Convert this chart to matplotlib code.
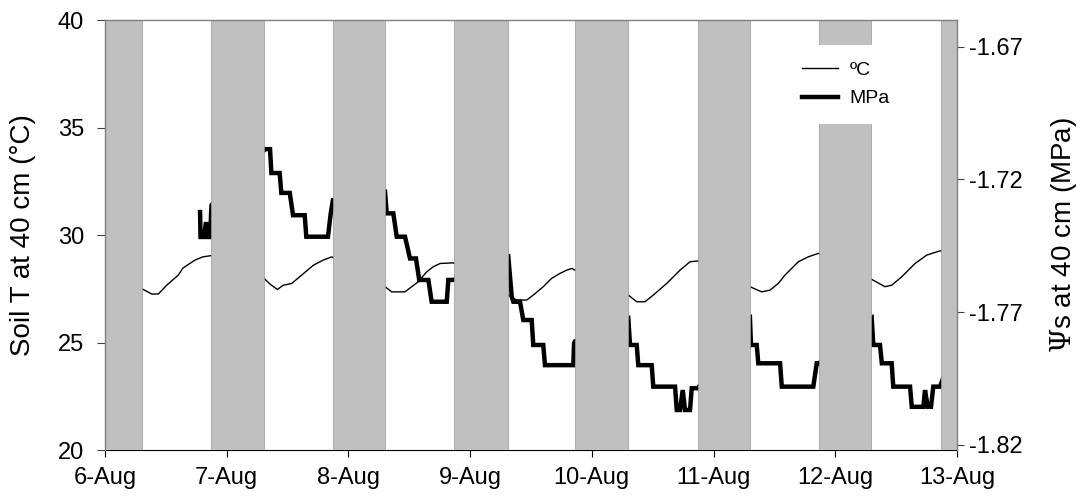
import matplotlib.pyplot as plt
from matplotlib.lines import Line2D

plt.rcParams['font.family'] = ['Liberation Sans', 'DejaVu Sans']
plt.rcParams['mathtext.fontset'] = 'dejavuserif'

# eixo x: dias desde 6-Aug 00:00
diasLabels = ['6-Aug', '7-Aug', '8-Aug', '9-Aug', '10-Aug', '11-Aug', '12-Aug', '13-Aug']

# temperatura do solo a 40 cm (ºC)
tempoT = [0.29, 0.304, 0.384, 0.438, 0.507, 0.602, 0.641, 0.740, 0.805, 0.877,
          1.306, 1.356, 1.416, 1.465, 1.534, 1.616, 1.712, 1.794, 1.863,
          2.301, 2.356, 2.465, 2.520, 2.574, 2.643, 2.698, 2.753, 2.862,
          3.314, 3.383, 3.465, 3.519, 3.601, 3.670, 3.739, 3.794, 3.835, 3.862,
          4.300, 4.369, 4.437, 4.505, 4.615, 4.725, 4.807, 4.875,
          5.300, 5.396, 5.464, 5.532, 5.587, 5.697, 5.779, 5.861,
          6.300, 6.409, 6.464, 6.546, 6.656, 6.752, 6.861, 7.0]
valorT = [27.6, 27.5, 27.26, 27.26, 27.67, 28.14, 28.47, 28.84, 28.99, 29.05,
          27.99, 27.72, 27.47, 27.67, 27.75, 28.14, 28.6, 28.84, 28.99,
          27.6, 27.36, 27.36, 27.6, 27.83, 28.29, 28.53, 28.68, 28.71,
          27.21, 26.98, 26.98, 27.21, 27.6, 27.99, 28.22, 28.37, 28.45, 28.37,
          27.21, 26.9, 26.9, 27.21, 27.75, 28.37, 28.76, 28.8,
          27.6, 27.36, 27.44, 27.75, 28.14, 28.76, 28.99, 29.15,
          27.94, 27.6, 27.67, 28.06, 28.68, 29.07, 29.27, 29.07]

# potencial da agua do solo a 40 cm (MPa)
tempoMPa = [0.781, 0.785, 0.813, 0.830, 0.846, 0.863, 0.875,
            1.315, 1.356, 1.367, 1.435, 1.449, 1.518, 1.545, 1.641, 1.654, 1.832, 1.855, 1.873,
            2.301, 2.315, 2.369, 2.397, 2.465, 2.506, 2.555, 2.582, 2.657, 2.684, 2.808, 2.821, 2.862,
            3.314, 3.342, 3.355, 3.410, 3.437, 3.506, 3.519, 3.601, 3.615, 3.848, 3.854, 3.862,
            4.300, 4.314, 4.369, 4.382, 4.492, 4.505, 4.684, 4.698, 4.725, 4.747, 4.766, 4.807, 4.821, 4.870,
            5.300, 5.308, 5.355, 5.368, 5.547, 5.561, 5.820, 5.848, 5.867,
            6.300, 6.313, 6.368, 6.383, 6.464, 6.477, 6.615, 6.629, 6.724, 6.738, 6.760, 6.787, 6.806, 6.861, 7.0]
valorMPa = [-1.7323, -1.7417, -1.7417, -1.7361, -1.7417, -1.7417, -1.7297,
            -1.7086, -1.7086, -1.7176, -1.7176, -1.7251, -1.7251, -1.7335, -1.7335, -1.7416, -1.7416, -1.7327, -1.7278,
            -1.7247, -1.7328, -1.7328, -1.7416, -1.7416, -1.7498, -1.7498, -1.7579, -1.7579, -1.7661, -1.7661, -1.7579, -1.7579,
            -1.7492, -1.7642, -1.7661, -1.7661, -1.7730, -1.7730, -1.7824, -1.7824, -1.7900, -1.7900, -1.7818, -1.7810,
            -1.7724, -1.7824, -1.7824, -1.7900, -1.7900, -1.7981, -1.7981, -1.8069, -1.8069, -1.7994, -1.8069, -1.8069, -1.7987, -1.7987,
            -1.7730, -1.7824, -1.7824, -1.7893, -1.7893, -1.7981, -1.7981, -1.7893, -1.7893,
            -1.7724, -1.7824, -1.7824, -1.7893, -1.7893, -1.7981, -1.7981, -1.8057, -1.8057, -1.7994, -1.8057, -1.8057, -1.7981, -1.7981, -1.7810]

# periodos noturnos (barras cinza)
noiteInicio = [0.0, 0.875, 1.876, 2.870, 3.862, 4.870, 5.867, 6.869]
noiteFim = [0.304, 1.304, 2.301, 3.312, 4.295, 5.300, 6.297, 7.0]

fig = plt.figure(figsize=(10.77, 5.04), dpi=100)
ax1 = fig.add_axes([0.0975, 0.107, 0.791, 0.853])
ax2 = ax1.twinx()

# linha fina da temperatura no eixo da esquerda
ax1.plot(tempoT, valorT, color='black', lw=1.0, zorder=2)
ax1.set_xlim(0, 7)
ax1.set_ylim(20, 40)
ax1.set_yticks([20, 25, 30, 35, 40])
ax1.set_xticks(range(len(diasLabels)))
ax1.set_xticklabels(diasLabels)
ax1.set_ylabel('Soil T at 40 cm (°C)', fontsize=20, va='center')
ax1.yaxis.set_label_coords(-0.096, 0.5)

# linha grossa do potencial no eixo da direita
ax2.plot(tempoMPa, valorMPa, color='black', lw=3.2, zorder=2,
         solid_joinstyle='miter')
ax2.set_ylim(-1.822, -1.66)
ax2.set_yticks([-1.82, -1.77, -1.72, -1.67])
ax2.set_yticklabels(['-1.82', '-1.77', '-1.72', '-1.67'])
ax2.set_ylabel(r'$\Psi$s at 40 cm (MPa)', fontsize=20)
ax2.yaxis.label.set_va('center')
ax2.yaxis.set_label_coords(1.125, 0.5)

# barras da noite por cima das linhas
for ini, fim in zip(noiteInicio, noiteFim):
    ax2.axvspan(ini, fim, facecolor='#c0c0c0', edgecolor='#9a9a9a', lw=0.5, zorder=2.2)

for s in ['top', 'left', 'right']:
    ax1.spines[s].set_visible(False)
ax1.spines['bottom'].set_color('black')
ax2.spines['bottom'].set_visible(False)
for s in ['top', 'left', 'right']:
    ax2.spines[s].set_color('#808080')
    ax2.spines[s].set_linewidth(1.0)

ax1.tick_params(axis='y', labelsize=17, length=6, width=0.8, pad=9, color='#404040')
ax1.tick_params(axis='x', labelsize=17, length=5, width=0.8, pad=7)
ax2.tick_params(axis='y', labelsize=17, length=5, width=0.8, pad=4, color='#404040')

handles = [Line2D([], [], color='black', lw=1.0),
           Line2D([], [], color='black', lw=3.2)]
leg = ax2.legend(handles, ['ºC', 'MPa'], loc='upper left',
                 bbox_to_anchor=(785 / 1077, 1 - 45 / 504), bbox_transform=fig.transFigure,
                 fontsize=14, frameon=True, fancybox=False, borderpad=0.85,
                 handlelength=1.9, handletextpad=0.57, labelspacing=0.55,
                 borderaxespad=0)
leg.get_frame().set_facecolor('white')
leg.get_frame().set_edgecolor('none')
leg.get_frame().set_alpha(1)
leg.set_zorder(10)

fig.savefig('out.png', dpi=100)
